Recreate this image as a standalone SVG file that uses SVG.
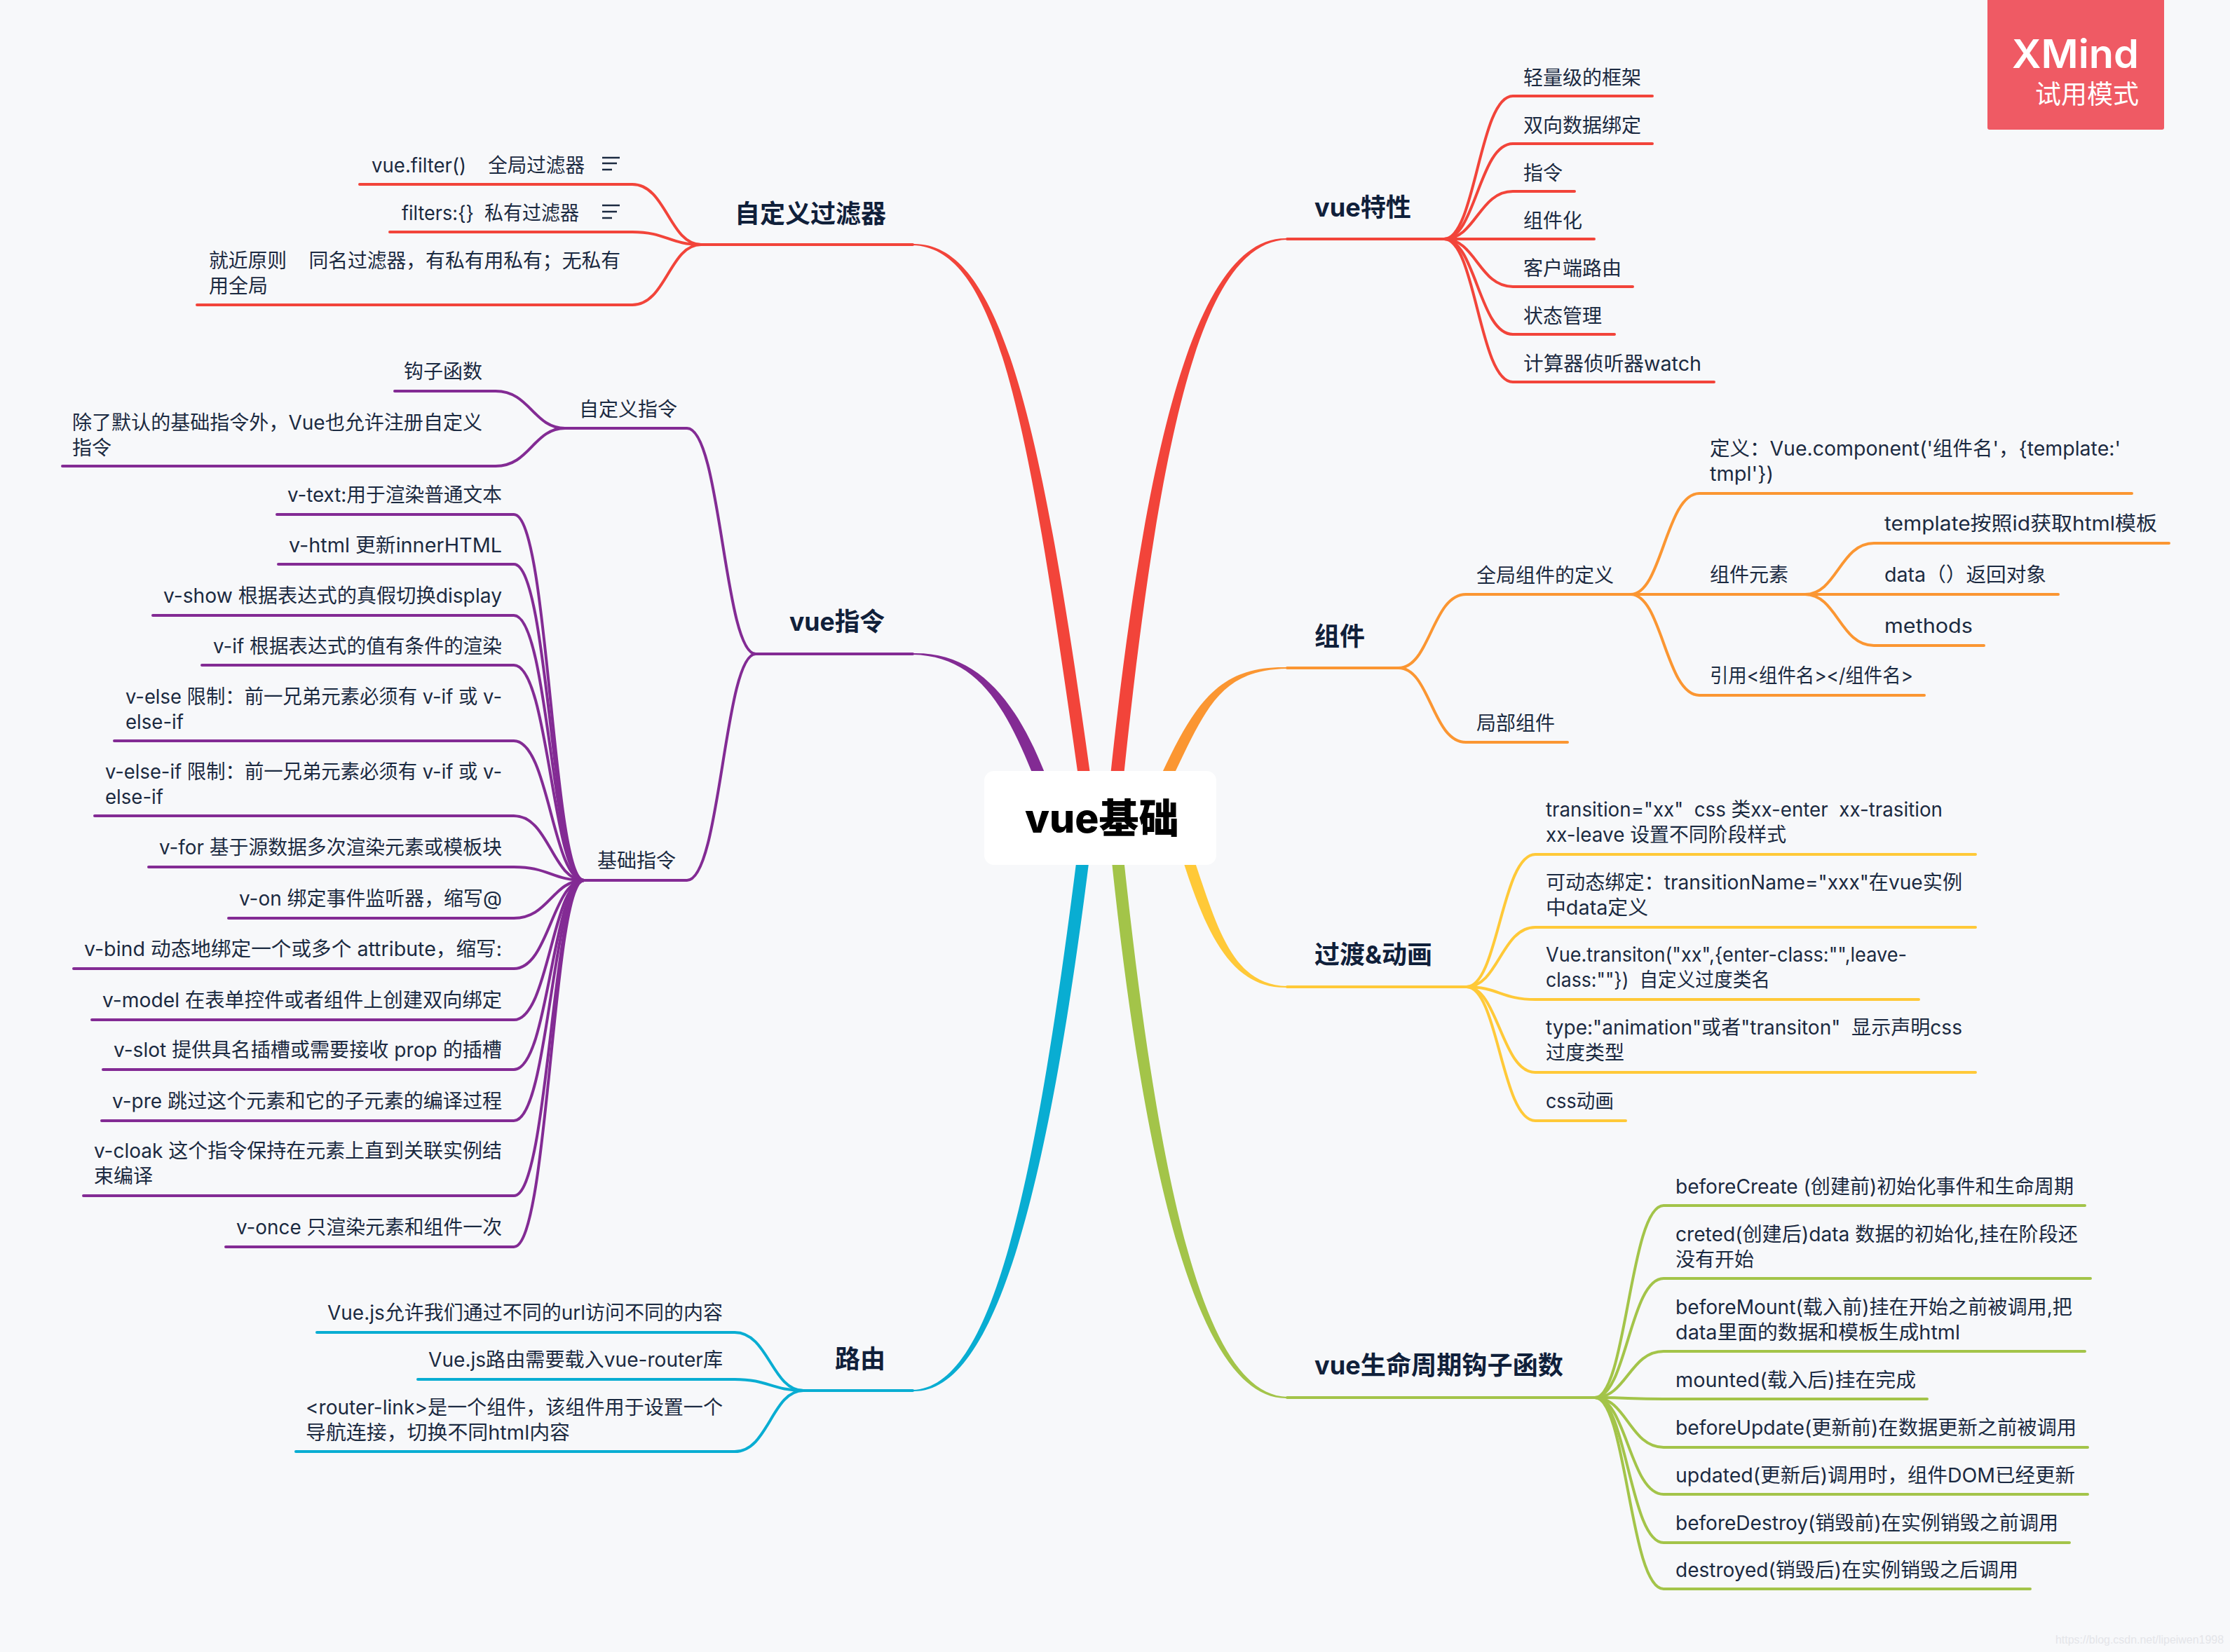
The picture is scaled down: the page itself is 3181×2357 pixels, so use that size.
<svg xmlns="http://www.w3.org/2000/svg" width="3181" height="2357" viewBox="0 0 3181 2357">
<style>
text{white-space:pre;font-family:"Inter","Noto Sans CJK SC",sans-serif}
.t{font-size:28px;fill:#1b2a41}
.b{font-size:36px;font-weight:700;fill:#10203a}
.l{fill:none;stroke-width:4;stroke-linecap:round;stroke-linejoin:round}
.red{stroke:#f2443a}.org{stroke:#fb9632}.yel{stroke:#ffc938}.grn{stroke:#a3c449}.cyn{stroke:#09add2}.pur{stroke:#832b94}
.i{stroke:#1b2a41;stroke-width:2.5;fill:none}
</style>
<rect width="3181" height="2357" fill="#f7f8fa"/>
<g id="connectors">
<path fill="#f2443a" d="M1584.5 1102C1638 599 1714 337 1836 340V342C1718 345 1656 601 1603.5 1102Z"/>
<path fill="#fb9632" d="M1658 1102C1707 997 1743 950 1836 952V954C1745 956 1723 1003 1676 1102Z"/>
<path fill="#ffc938" d="M1688.75 1232C1722 1335 1758 1411 1836 1409V1407C1760 1405 1738 1329 1705.25 1232Z"/>
<path fill="#a3c449" d="M1586.25 1232C1639 1733 1721 1998 1836 1995V1993C1725 1990 1657 1731 1603.75 1232Z"/>
<path fill="#09add2" d="M1553 1232C1490 1733 1413 1988 1302 1985V1983C1409 1980 1472 1731 1535 1232Z"/>
<path fill="#832b94" d="M1490 1102C1448 997 1393 930 1302 932V934C1391 936 1432 1003 1472 1102Z"/>
<path fill="#f2443a" d="M1554.75 1102C1485 599 1427 345 1302 348V350C1423 353 1467 601 1537.25 1102Z"/>

<g class="l red">
<path d="M1836 341H2060C2105 341 2110 137 2158 137H2357"/>
<path d="M2060 341C2105 341 2110 205 2158 205H2357"/>
<path d="M2060 341C2105 341 2110 273 2158 273H2246"/>
<path d="M2060 341C2105 341 2110 341 2158 341H2274"/>
<path d="M2060 341C2105 341 2110 409 2158 409H2329"/>
<path d="M2060 341C2105 341 2110 477 2158 477H2303"/>
<path d="M2060 341C2105 341 2110 545 2158 545H2445"/>
<path d="M1302 349H1000C955 349 950 263 902 263H513"/>
<path d="M1000 349C955 349 950 331 902 331H556"/>
<path d="M1000 349C955 349 950 435 902 435H281"/>
</g>
<g class="l org">
<path d="M1836 953H1995C2040 953 2043 848 2091 848H2326C2371 848 2376 704 2424 704H3041"/>
<path d="M1995 953C2040 953 2043 1059 2091 1059H2236"/>
<path d="M2326 848C2371 848 2376 848 2424 848H2575C2620 848 2625 775 2673 775H3094"/>
<path d="M2575 848C2620 848 2625 848 2673 848H2936"/>
<path d="M2575 848C2620 848 2625 921 2673 921H2830"/>
<path d="M2326 848C2371 848 2376 992 2424 992H2745"/>
</g>
<g class="l yel">
<path d="M1836 1408H2092C2137 1408 2142 1219 2190 1219H2818"/>
<path d="M2092 1408C2137 1408 2142 1323 2190 1323H2818"/>
<path d="M2092 1408C2137 1408 2142 1426 2190 1426H2737"/>
<path d="M2092 1408C2137 1408 2142 1530 2190 1530H2818"/>
<path d="M2092 1408C2137 1408 2142 1599 2190 1599H2319"/>
</g>
<g class="l grn">
<path d="M1836 1994H2275C2320 1994 2325 1720 2373 1720H2974"/>
<path d="M2275 1994C2320 1994 2325 1824 2373 1824H2982"/>
<path d="M2275 1994C2320 1994 2325 1928 2373 1928H2974"/>
<path d="M2275 1994C2320 1994 2325 1996 2373 1996H2749"/>
<path d="M2275 1994C2320 1994 2325 2065 2373 2065H2978"/>
<path d="M2275 1994C2320 1994 2325 2132 2373 2132H2978"/>
<path d="M2275 1994C2320 1994 2325 2201 2373 2201H2952"/>
<path d="M2275 1994C2320 1994 2325 2267 2373 2267H2896"/>
</g>
<g class="l cyn">
<path d="M1302 1984H1146C1101 1984 1096 1901 1048 1901H452"/>
<path d="M1146 1984C1101 1984 1096 1968 1048 1968H596"/>
<path d="M1146 1984C1101 1984 1096 2071 1048 2071H422"/>
</g>
<g class="l pur">
<path d="M1302 933H1078C1033 933 1028 611 980 611H806C761 611 756 558 707 558H563"/>
<path d="M806 611C761 611 756 665 707 665H89"/>
<path d="M1078 933C1033 933 1028 1256 980 1256H833C788 1256 783 734 733 734H395"/>
<path d="M833 1256C788 1256 783 805 733 805H397"/>
<path d="M833 1256C788 1256 783 878 733 878H218"/>
<path d="M833 1256C788 1256 783 949 733 949H288"/>
<path d="M833 1256C788 1256 783 1057 733 1057H163"/>
<path d="M833 1256C788 1256 783 1164 733 1164H135"/>
<path d="M833 1256C788 1256 783 1237 733 1237H212"/>
<path d="M833 1256C788 1256 783 1310 733 1310H326"/>
<path d="M833 1256C788 1256 783 1382 733 1382H105"/>
<path d="M833 1256C788 1256 783 1455 733 1455H131"/>
<path d="M833 1256C788 1256 783 1526 733 1526H147"/>
<path d="M833 1256C788 1256 783 1599 733 1599H145"/>
<path d="M833 1256C788 1256 783 1706 733 1706H119"/>
<path d="M833 1256C788 1256 783 1779 733 1779H322"/>
</g>
</g>

<g id="root">
<rect x="1404" y="1100" width="331" height="134" rx="14" fill="#fff"/>
<text x="1462" y="1188" font-size="57" font-weight="800" fill="#000">vue基础</text>
</g>

<g id="n-vue-features"><text class="b" x="1875" y="309" textLength="138" lengthAdjust="spacingAndGlyphs">vue特性</text>
<text class="t" x="2173" y="121">轻量级的框架</text>
<text class="t" x="2173" y="189">双向数据绑定</text>
<text class="t" x="2173" y="257">指令</text>
<text class="t" x="2173" y="325">组件化</text>
<text class="t" x="2173" y="393">客户端路由</text>
<text class="t" x="2173" y="461">状态管理</text>
<text class="t" x="2173" y="529" textLength="254" lengthAdjust="spacingAndGlyphs">计算器侦听器watch</text></g>

<g id="n-component"><text class="b" x="1875" y="921">组件</text>
<text class="t" x="2106" y="831">全局组件的定义</text>
<text class="t" x="2106" y="1042">局部组件</text>
<text class="t" x="2439" y="650" textLength="586" lengthAdjust="spacingAndGlyphs">定义：Vue.component('组件名'，{template:'</text>
<text class="t" x="2439" y="686" textLength="91" lengthAdjust="spacingAndGlyphs">tmpl'})</text>
<text class="t" x="2439" y="830">组件元素</text>
<text class="t" x="2688" y="757" textLength="389" lengthAdjust="spacingAndGlyphs">template按照id获取html模板</text>
<text class="t" x="2688" y="830" textLength="231" lengthAdjust="spacingAndGlyphs">data（）返回对象</text>
<text class="t" x="2688" y="903" textLength="126" lengthAdjust="spacingAndGlyphs">methods</text>
<text class="t" x="2439" y="974" textLength="290" lengthAdjust="spacingAndGlyphs">引用&lt;组件名&gt;&lt;/组件名&gt;</text></g>

<g id="n-transition"><text class="b" x="1875" y="1375" textLength="168" lengthAdjust="spacingAndGlyphs">过渡&amp;动画</text>
<text class="t" x="2205" y="1165" textLength="566" lengthAdjust="spacingAndGlyphs">transition="xx"  css 类xx-enter  xx-trasition</text>
<text class="t" x="2205" y="1201" textLength="343" lengthAdjust="spacingAndGlyphs">xx-leave 设置不同阶段样式</text>
<text class="t" x="2205" y="1269" textLength="594" lengthAdjust="spacingAndGlyphs">可动态绑定：transitionName="xxx"在vue实例</text>
<text class="t" x="2205" y="1305" textLength="146" lengthAdjust="spacingAndGlyphs">中data定义</text>
<text class="t" x="2205" y="1372" textLength="515" lengthAdjust="spacingAndGlyphs">Vue.transiton("xx",{enter-class:"",leave-</text>
<text class="t" x="2205" y="1408" textLength="320" lengthAdjust="spacingAndGlyphs">class:""})  自定义过度类名</text>
<text class="t" x="2205" y="1476" textLength="594" lengthAdjust="spacingAndGlyphs">type:"animation"或者"transiton"  显示声明css</text>
<text class="t" x="2205" y="1512">过度类型</text>
<text class="t" x="2205" y="1581" textLength="97" lengthAdjust="spacingAndGlyphs">css动画</text></g>

<g id="n-lifecycle"><text class="b" x="1875" y="1961" textLength="355" lengthAdjust="spacingAndGlyphs">vue生命周期钩子函数</text>
<text class="t" x="2390" y="1703" textLength="568" lengthAdjust="spacingAndGlyphs">beforeCreate (创建前)初始化事件和生命周期</text>
<text class="t" x="2390" y="1771" textLength="574" lengthAdjust="spacingAndGlyphs">creted(创建后)data 数据的初始化,挂在阶段还</text>
<text class="t" x="2390" y="1807">没有开始</text>
<text class="t" x="2390" y="1875" textLength="566" lengthAdjust="spacingAndGlyphs">beforeMount(载入前)挂在开始之前被调用,把</text>
<text class="t" x="2390" y="1911" textLength="406" lengthAdjust="spacingAndGlyphs">data里面的数据和模板生成html</text>
<text class="t" x="2390" y="1979" textLength="343" lengthAdjust="spacingAndGlyphs">mounted(载入后)挂在完成</text>
<text class="t" x="2390" y="2047" textLength="572" lengthAdjust="spacingAndGlyphs">beforeUpdate(更新前)在数据更新之前被调用</text>
<text class="t" x="2390" y="2115" textLength="570" lengthAdjust="spacingAndGlyphs">updated(更新后)调用时，组件DOM已经更新</text>
<text class="t" x="2390" y="2183" textLength="546" lengthAdjust="spacingAndGlyphs">beforeDestroy(销毁前)在实例销毁之前调用</text>
<text class="t" x="2390" y="2250" textLength="489" lengthAdjust="spacingAndGlyphs">destroyed(销毁后)在实例销毁之后调用</text></g>

<g id="n-filters"><text class="b" x="1048" y="318">自定义过滤器</text>
<text class="t" x="530" y="246" textLength="304" lengthAdjust="spacingAndGlyphs">vue.filter()    全局过滤器</text>
<path class="i" d="M859 225H884M859 233H880M859 242H873"/>
<text class="t" x="573" y="314" textLength="253" lengthAdjust="spacingAndGlyphs">filters:{}  私有过滤器</text>
<path class="i" d="M859 293H884M859 302H880M859 311H873"/>
<text class="t" x="298" y="382" textLength="587" lengthAdjust="spacingAndGlyphs">就近原则    同名过滤器，有私有用私有；无私有</text>
<text class="t" x="298" y="418">用全局</text></g>

<g id="n-directives"><text class="b" x="1126" y="900" textLength="136" lengthAdjust="spacingAndGlyphs">vue指令</text>
<text class="t" x="826" y="594">自定义指令</text>
<text class="t" x="576" y="540">钩子函数</text>
<text class="t" x="103" y="613" textLength="585" lengthAdjust="spacingAndGlyphs">除了默认的基础指令外，Vue也允许注册自定义</text>
<text class="t" x="103" y="649">指令</text>
<text class="t" x="852" y="1238">基础指令</text>
<text class="t" x="410" y="716" textLength="306" lengthAdjust="spacingAndGlyphs">v-text:用于渲染普通文本</text>
<text class="t" x="412" y="788" textLength="304" lengthAdjust="spacingAndGlyphs">v-html 更新innerHTML</text>
<text class="t" x="233" y="860" textLength="483" lengthAdjust="spacingAndGlyphs">v-show 根据表达式的真假切换display</text>
<text class="t" x="304" y="932" textLength="412" lengthAdjust="spacingAndGlyphs">v-if 根据表达式的值有条件的渲染</text>
<text class="t" x="179" y="1004" textLength="537" lengthAdjust="spacingAndGlyphs">v-else 限制：前一兄弟元素必须有 v-if 或 v-</text>
<text class="t" x="179" y="1040" textLength="83" lengthAdjust="spacingAndGlyphs">else-if</text>
<text class="t" x="150" y="1111" textLength="566" lengthAdjust="spacingAndGlyphs">v-else-if 限制：前一兄弟元素必须有 v-if 或 v-</text>
<text class="t" x="150" y="1147" textLength="83" lengthAdjust="spacingAndGlyphs">else-if</text>
<text class="t" x="227" y="1219" textLength="489" lengthAdjust="spacingAndGlyphs">v-for 基于源数据多次渲染元素或模板块</text>
<text class="t" x="341" y="1292" textLength="375" lengthAdjust="spacingAndGlyphs">v-on 绑定事件监听器，缩写@</text>
<text class="t" x="120" y="1364" textLength="596" lengthAdjust="spacingAndGlyphs">v-bind 动态地绑定一个或多个 attribute，缩写:</text>
<text class="t" x="146" y="1437" textLength="570" lengthAdjust="spacingAndGlyphs">v-model 在表单控件或者组件上创建双向绑定</text>
<text class="t" x="162" y="1508" textLength="554" lengthAdjust="spacingAndGlyphs">v-slot 提供具名插槽或需要接收 prop 的插槽</text>
<text class="t" x="160" y="1581" textLength="556" lengthAdjust="spacingAndGlyphs">v-pre 跳过这个元素和它的子元素的编译过程</text>
<text class="t" x="134" y="1652" textLength="582" lengthAdjust="spacingAndGlyphs">v-cloak 这个指令保持在元素上直到关联实例结</text>
<text class="t" x="134" y="1688">束编译</text>
<text class="t" x="337" y="1761" textLength="379" lengthAdjust="spacingAndGlyphs">v-once 只渲染元素和组件一次</text></g>

<g id="n-router"><text class="b" x="1191" y="1952">路由</text>
<text class="t" x="467" y="1883" textLength="564" lengthAdjust="spacingAndGlyphs">Vue.js允许我们通过不同的url访问不同的内容</text>
<text class="t" x="611" y="1950" textLength="420" lengthAdjust="spacingAndGlyphs">Vue.js路由需要载入vue-router库</text>
<text class="t" x="436" y="2018" textLength="595" lengthAdjust="spacingAndGlyphs">&lt;router-link&gt;是一个组件，该组件用于设置一个</text>
<text class="t" x="436" y="2054" textLength="377" lengthAdjust="spacingAndGlyphs">导航连接，切换不同html内容</text></g>

<g id="badge">
<rect x="2835" y="-6" width="252" height="191" rx="3" fill="#ef5a64"/>
<text x="2870" y="97" font-size="56" font-weight="600" fill="#fff" textLength="181" lengthAdjust="spacingAndGlyphs">XMind</text>
<text x="2903" y="148" font-size="37" fill="#fff">试用模式</text>
</g>
<text id="watermark" x="2932" y="2345" font-size="17" fill="#e4e5e9" style="font-family:'Liberation Sans',sans-serif" textLength="240" lengthAdjust="spacingAndGlyphs">https://blog.csdn.net/lipeiwen1998</text>
</svg>
